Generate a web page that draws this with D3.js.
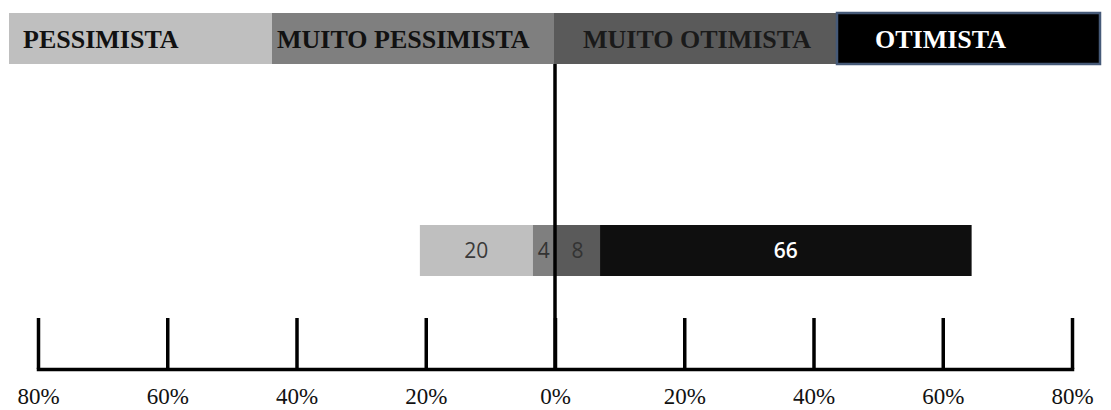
<!DOCTYPE html>
<html>
<head>
<meta charset="utf-8">
<script src="https://cdn.jsdelivr.net/npm/d3@7/dist/d3.min.js"></script>
<style>
  html, body { margin: 0; padding: 0; background: #ffffff; }
  svg { display: block; }
</style>
</head>
<body>
<svg id="chart" width="1111" height="410"></svg>
<script>
// Response categories, left to right
const categories = ["PESSIMISTA", "MUITO PESSIMISTA", "MUITO OTIMISTA", "OTIMISTA"];
// Share of respondents in each category (%)
const values = [20, 4, 8, 66];
// Axis ticks (signed so both halves can be drawn from one scale)
const tickValues = [-80, -60, -40, -20, 0, 20, 40, 60, 80];
const tickLabels = ["80%", "60%", "40%", "20%", "0%", "20%", "40%", "60%", "80%"];

const fills = ["#bfbfbf", "#7f7f7f", "#5a5a5a", "#0f0f0f"];
const legendFills = ["#bfbfbf", "#7f7f7f", "#5a5a5a", "#000000"];
const legendText = ["#111111", "#111111", "#1a1a1a", "#ffffff"];
const barText = ["#3a3a3a", "#333333", "#333333", "#ffffff"];

const svg = d3.select("#chart");

// Axis scale and the scale used for the diverging bar
const x = d3.scaleLinear().domain([-80, 80]).range([38, 1072]);
const xb = d3.scaleLinear().domain([-100, 100]).range([-8, 1118]);

// ---- Legend strip ----
const legendTop = 13, legendH = 51;
const legendW = [263, 282, 283, 263];
const legendPad = [14, 5, 29, 38];
let lx = 9;
const legendItems = categories.map((c, i) => {
  const item = { name: c, x: lx, w: legendW[i], i };
  lx += legendW[i];
  return item;
});
const lg = svg.append("g");
lg.selectAll("rect").data(legendItems).join("rect")
  .attr("x", d => d.x).attr("y", legendTop)
  .attr("width", d => d.w).attr("height", legendH)
  .attr("fill", d => legendFills[d.i])
  .attr("stroke", d => d.i === 3 ? "#465a78" : "none")
  .attr("stroke-width", d => d.i === 3 ? 2.5 : 0);
lg.selectAll("text").data(legendItems).join("text")
  .attr("x", d => d.x + legendPad[d.i]).attr("y", 47.5)
  .attr("font-family", "'Liberation Serif', 'Times New Roman', serif")
  .attr("font-weight", "bold").attr("font-size", 26)
  .attr("fill", d => legendText[d.i])
  .text(d => d.name);

// ---- Diverging bar (stacked outward from zero) ----
const segs = [];
let neg = 0, pos = 0;
// inner segments sit next to zero, so stack from the centre outward
[1, 0].forEach(i => { segs.push({ i, x0: -(neg + values[i]), x1: -neg }); neg += values[i]; });
[2, 3].forEach(i => { segs.push({ i, x0: pos, x1: pos + values[i] }); pos += values[i]; });

const barTop = 225, barH = 51;
const bg = svg.append("g");
bg.selectAll("rect").data(segs).join("rect")
  .attr("x", d => xb(d.x0)).attr("y", barTop)
  .attr("width", d => xb(d.x1) - xb(d.x0)).attr("height", barH)
  .attr("fill", d => fills[d.i]);
bg.selectAll("text").data(segs).join("text")
  .attr("x", d => (xb(d.x0) + xb(d.x1)) / 2)
  .attr("y", barTop + barH / 2)
  .attr("dy", "0.36em")
  .attr("text-anchor", "middle")
  .attr("font-family", "'Open Sans', 'Noto Sans', sans-serif")
  .attr("font-size", 21)
  .attr("font-weight", d => d.i === 3 ? 600 : 400)
  .attr("fill", d => barText[d.i])
  .text(d => values[d.i]);

// ---- Bottom axis with upward ticks ----
const axisY = 369;
const axis = d3.axisBottom(x)
  .tickValues(tickValues)
  .tickSizeInner(-51)
  .tickSizeOuter(0)
  .tickFormat((d, i) => tickLabels[i]);
const ag = svg.append("g").attr("transform", `translate(0,${axisY})`).call(axis);
ag.select(".domain").attr("stroke", "#000").attr("stroke-width", 3.5).attr("stroke-linecap", "square");
ag.selectAll(".tick line").attr("stroke", "#000").attr("stroke-width", 3.5);
ag.selectAll(".tick text")
  .attr("y", 35).attr("dy", 0)
  .attr("font-family", "'Liberation Serif', 'Times New Roman', serif")
  .attr("font-size", 23)
  .attr("fill", "#111");

// Zero line running from the legend down to the axis
svg.append("line")
  .attr("x1", x(0)).attr("x2", x(0))
  .attr("y1", legendTop + legendH).attr("y2", axisY)
  .attr("stroke", "#000").attr("stroke-width", 3.5);
</script>
</body>
</html>
